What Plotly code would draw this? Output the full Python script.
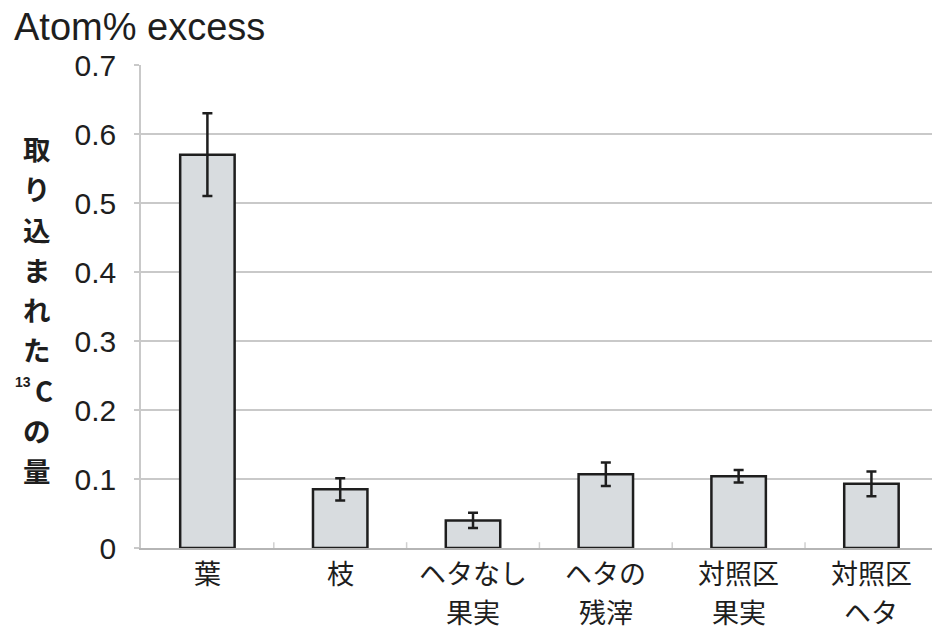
import plotly.graph_objects as go

# Categories (tick labels) and measured 13C incorporation
categories = ["葉", "枝", "ヘタなし<br>果実", "ヘタの<br>残滓", "対照区<br>果実", "対照区<br>ヘタ"]
values = [0.57, 0.085, 0.04, 0.107, 0.104, 0.093]
errors = [0.06, 0.016, 0.011, 0.017, 0.009, 0.018]
y_ticks = [0, 0.1, 0.2, 0.3, 0.4, 0.5, 0.6, 0.7]
y_tick_text = ["0", "0.1", "0.2", "0.3", "0.4", "0.5", "0.6", "0.7"]
title_glyphs = ["取", "り", "込", "ま", "れ", "た", "C", "の", "量"]

LATIN = "Liberation Sans, Arial, Noto Sans CJK JP, sans-serif"
CJK = "Noto Sans CJK JP, sans-serif"
INK = "#1e1e1e"
GRID = "#c9c9c9"

fig = go.Figure()
fig.add_trace(go.Bar(
    x=list(range(len(categories))),
    y=values,
    width=0.41,
    marker=dict(color="#d8dcdf", line=dict(color=INK, width=2.5)),
    error_y=dict(type="data", array=errors, visible=True,
                 color=INK, thickness=2.5, width=5),
    hoverinfo="skip",
))

W, H = 932, 632
L, R, T, B = 141, 0, 65, 84
PW, PH = W - L - R, H - T - B

fig.update_layout(
    width=W, height=H,
    margin=dict(l=L, r=R, t=T, b=B, pad=0),
    paper_bgcolor="white",
    plot_bgcolor="white",
    showlegend=False,
    xaxis=dict(
        range=[-0.5, 5.456],
        tickmode="array",
        tickvals=list(range(len(categories))),
        showticklabels=False,
        showgrid=False,
        showline=True, linecolor="#b5b5b5", linewidth=2,
        ticks="",
        zeroline=False,
    ),
    yaxis=dict(
        range=[0, 0.7],
        tickmode="array",
        tickvals=y_ticks,
        ticktext=y_tick_text,
        tickfont=dict(family=LATIN, size=30, color=INK),
        showgrid=True, gridcolor=GRID, gridwidth=2,
        showline=True, linecolor=GRID, linewidth=1.5,
        ticks="outside", ticklen=5, tickcolor=GRID, tickwidth=1.5,
        ticklabelstandoff=12,
        zeroline=False,
    ),
)

# Category boundary ticks on the baseline
for k in range(1, len(categories)):
    fig.add_shape(type="line", xref="x", yref="paper",
                  x0=k - 0.5, x1=k - 0.5, y0=0, y1=0.012,
                  line=dict(color="#d0d0d0", width=1.5))

# Category labels under each bar, one annotation per text row
row_centers = [572, 611]
for i, label in enumerate(categories):
    for j, row in enumerate(label.split("<br>")):
        fig.add_annotation(
            text=row, xref="x", yref="paper",
            x=i, y=(H - B - row_centers[j]) / PH,
            xanchor="center", yanchor="middle", showarrow=False,
            font=dict(family=CJK, size=27, color=INK),
        )

# Unit label above the axis
fig.add_annotation(
    text="Atom% excess", xref="paper", yref="paper",
    x=-(L - 12) / PW, y=1 + (T - 27) / PH,
    xanchor="left", yanchor="middle", showarrow=False,
    font=dict(family=LATIN, size=38, color=INK),
)

# Vertical axis title, stacked one glyph per row
top_c, pitch = 148, 40.25
for i, g in enumerate(title_glyphs):
    yc = top_c + i * pitch
    xc = 37
    if g == "C":
        xc = 44
        # mass-number prefix of the isotope label
        fig.add_annotation(
            text="<b>13</b>", xref="paper", yref="paper",
            x=-(L - 23) / PW, y=(H - B - (yc - 8)) / PH,
            xanchor="center", yanchor="middle", showarrow=False,
            font=dict(family=LATIN, size=14, color=INK),
        )
    fig.add_annotation(
        text=f"<b>{g}</b>", xref="paper", yref="paper",
        x=-(L - xc) / PW, y=(H - B - yc) / PH,
        xanchor="center", yanchor="middle", showarrow=False,
        font=dict(family=CJK, size=27.5, color=INK),
    )

fig.write_html("out.html")
